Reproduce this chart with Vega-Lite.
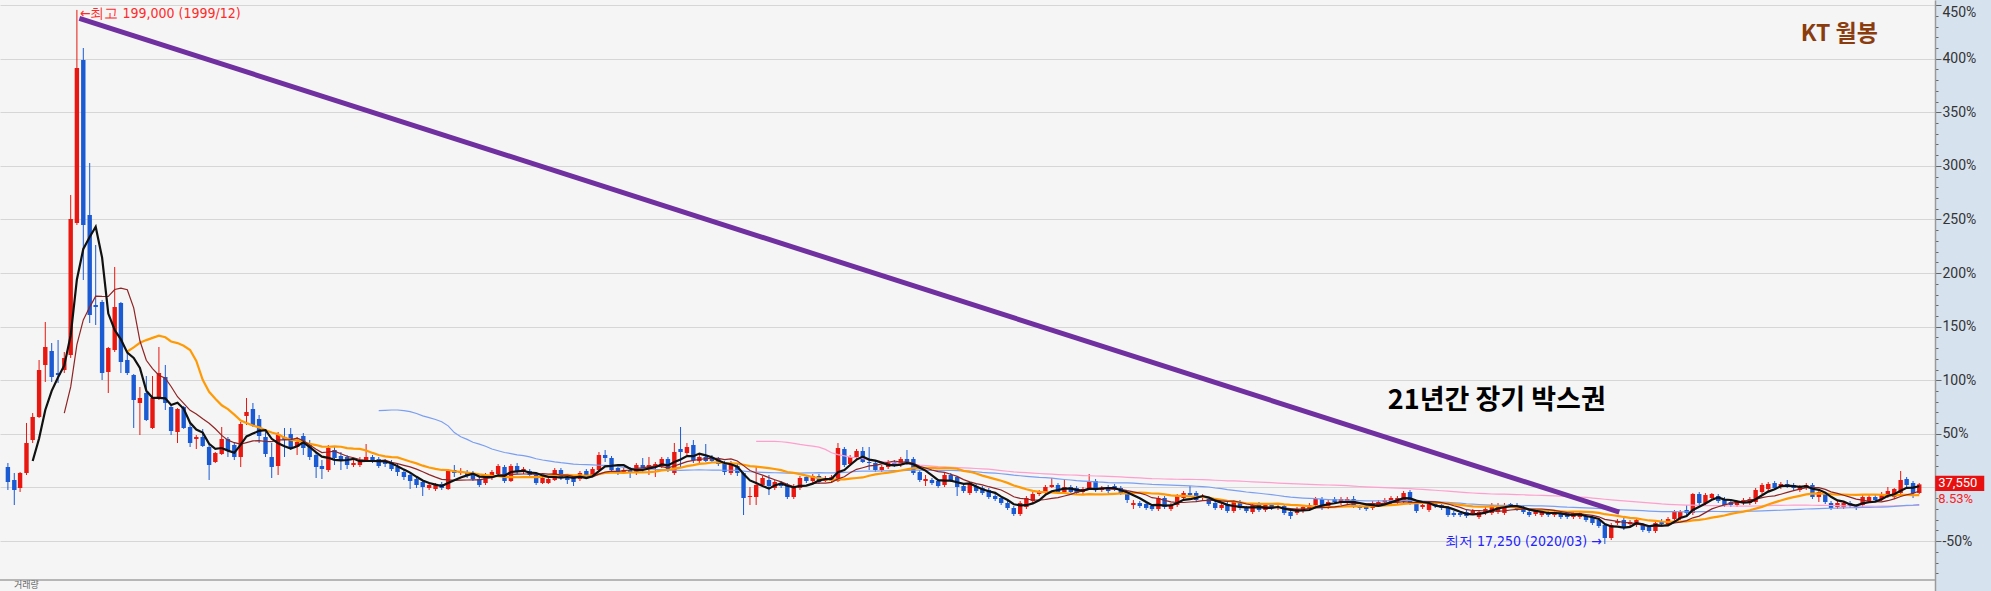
{
"$schema":"https://vega.github.io/schema/vega-lite/v6.json",
"width":1935,"height":591,
"autosize":{"type":"none"},
"padding":{"left":0,"top":0,"right":56,"bottom":0},
"background":"#d7e2ef",
"config":{"view":{"fill":"#f5f5f5","stroke":null}},
"datasets":{
"k":[
{"d":"1999-01-15","o":43450,"h":44810,"l":35630,"c":38350},
{"d":"1999-02-15","o":39030,"h":41410,"l":30520,"c":35630},
{"d":"1999-03-15","o":36310,"h":41750,"l":34950,"c":41410},
{"d":"1999-04-15","o":41410,"h":58430,"l":40730,"c":51620},
{"d":"1999-05-15","o":52640,"h":61830,"l":51620,"c":60470},
{"d":"1999-06-15","o":60470,"h":79870,"l":60130,"c":76460},
{"d":"1999-07-15","o":78170,"h":92800,"l":72380,"c":84290},
{"d":"1999-08-15","o":82930,"h":85650,"l":72380,"c":74080},
{"d":"1999-09-15","o":75440,"h":86670,"l":72040,"c":74760},
{"d":"1999-10-15","o":76460,"h":82590,"l":75440,"c":80550},
{"d":"1999-11-15","o":81570,"h":136020,"l":80550,"c":127850},
{"d":"1999-12-15","o":126490,"h":199000,"l":125810,"c":179230},
{"d":"2000-01-15","o":181960,"h":186040,"l":107090,"c":125810},
{"d":"2000-02-15","o":129210,"h":146910,"l":92460,"c":95180},
{"d":"2000-03-15","o":98580,"h":119000,"l":91780,"c":97900},
{"d":"2000-04-15","o":99610,"h":100300,"l":73060,"c":75440},
{"d":"2000-05-15","o":75780,"h":84300,"l":68640,"c":83950},
{"d":"2000-06-15","o":83270,"h":111520,"l":82590,"c":97900},
{"d":"2000-07-15","o":99270,"h":99610,"l":75440,"c":79190},
{"d":"2000-08-15","o":79870,"h":82250,"l":74760,"c":75440},
{"d":"2000-09-15","o":74760,"h":75100,"l":56730,"c":66260},
{"d":"2000-10-15","o":65240,"h":70680,"l":54340,"c":66940},
{"d":"2000-11-15","o":68640,"h":74420,"l":59100,"c":59450},
{"d":"2000-12-15","o":56730,"h":74420,"l":56400,"c":66940},
{"d":"2001-01-15","o":66940,"h":84290,"l":66260,"c":75440},
{"d":"2001-02-15","o":74080,"h":78170,"l":62850,"c":65240},
{"d":"2001-03-15","o":63870,"h":64200,"l":54340,"c":55700},
{"d":"2001-04-15","o":55360,"h":63500,"l":51620,"c":63190},
{"d":"2001-05-15","o":63870,"h":64210,"l":56400,"c":56730},
{"d":"2001-06-15","o":57070,"h":58430,"l":50260,"c":51620},
{"d":"2001-07-15","o":52980,"h":54340,"l":49580,"c":53660},
{"d":"2001-08-15","o":53660,"h":56380,"l":50260,"c":50600},
{"d":"2001-09-15","o":50260,"h":51620,"l":39030,"c":44130},
{"d":"2001-10-15","o":45150,"h":48560,"l":44810,"c":48220},
{"d":"2001-11-15","o":47880,"h":57070,"l":47540,"c":52980},
{"d":"2001-12-15","o":52980,"h":53660,"l":46860,"c":49240},
{"d":"2002-01-15","o":50940,"h":51960,"l":45830,"c":46860},
{"d":"2002-02-15","o":46860,"h":58770,"l":43450,"c":58090},
{"d":"2002-03-15","o":60810,"h":66940,"l":57750,"c":62170},
{"d":"2002-04-15","o":63190,"h":65240,"l":57070,"c":57750},
{"d":"2002-05-15","o":59790,"h":61150,"l":51620,"c":54000},
{"d":"2002-06-15","o":53660,"h":55360,"l":46860,"c":47880},
{"d":"2002-07-15","o":46860,"h":51620,"l":39710,"c":43450},
{"d":"2002-08-15","o":43790,"h":55360,"l":40730,"c":54680},
{"d":"2002-09-15","o":53660,"h":56730,"l":46860,"c":52640},
{"d":"2002-10-15","o":54680,"h":56730,"l":49240,"c":49920},
{"d":"2002-11-15","o":50260,"h":53660,"l":47540,"c":51960},
{"d":"2002-12-15","o":54000,"h":55020,"l":47540,"c":49920},
{"d":"2003-01-15","o":50940,"h":52640,"l":45830,"c":46860},
{"d":"2003-02-15","o":47540,"h":48560,"l":39710,"c":43450},
{"d":"2003-03-15","o":43790,"h":45830,"l":39370,"c":42770},
{"d":"2003-04-15","o":42430,"h":50940,"l":41750,"c":49920},
{"d":"2003-05-15","o":49240,"h":50260,"l":44130,"c":46510},
{"d":"2003-06-15","o":47200,"h":48560,"l":42430,"c":45830},
{"d":"2003-07-15","o":46860,"h":47540,"l":42770,"c":44130},
{"d":"2003-08-15","o":44130,"h":45830,"l":43450,"c":44810},
{"d":"2003-09-15","o":44130,"h":46860,"l":43450,"c":45830},
{"d":"2003-10-15","o":45490,"h":51280,"l":45150,"c":46860},
{"d":"2003-11-15","o":46860,"h":47540,"l":44810,"c":45830},
{"d":"2003-12-15","o":46170,"h":46860,"l":43110,"c":43790},
{"d":"2004-01-15","o":45150,"h":46170,"l":43450,"c":44470},
{"d":"2004-02-15","o":44810,"h":45830,"l":42090,"c":42770},
{"d":"2004-03-15","o":43450,"h":44470,"l":40390,"c":41750},
{"d":"2004-04-15","o":41750,"h":42770,"l":39030,"c":40050},
{"d":"2004-05-15","o":40730,"h":41750,"l":35970,"c":38690},
{"d":"2004-06-15","o":39370,"h":40050,"l":36310,"c":37330},
{"d":"2004-07-15","o":38350,"h":39030,"l":33580,"c":36650},
{"d":"2004-08-15","o":36310,"h":38350,"l":35630,"c":37330},
{"d":"2004-09-15","o":35970,"h":38010,"l":35290,"c":37330},
{"d":"2004-10-15","o":37670,"h":38350,"l":35630,"c":36310},
{"d":"2004-11-15","o":35970,"h":42770,"l":35630,"c":42430},
{"d":"2004-12-15","o":42430,"h":44130,"l":40050,"c":41410},
{"d":"2005-01-15","o":41410,"h":43110,"l":40730,"c":42090},
{"d":"2005-02-15","o":41750,"h":42430,"l":39710,"c":40730},
{"d":"2005-03-15","o":41410,"h":42090,"l":38690,"c":39370},
{"d":"2005-04-15","o":39370,"h":40390,"l":36650,"c":37330},
{"d":"2005-05-15","o":38010,"h":41410,"l":37330,"c":40730},
{"d":"2005-06-15","o":40050,"h":42430,"l":39030,"c":41750},
{"d":"2005-07-15","o":41070,"h":44470,"l":40390,"c":43790},
{"d":"2005-08-15","o":43450,"h":44130,"l":38010,"c":38690},
{"d":"2005-09-15","o":38690,"h":44470,"l":38350,"c":43790},
{"d":"2005-10-15","o":43790,"h":44810,"l":41070,"c":41750},
{"d":"2005-11-15","o":41750,"h":43450,"l":41070,"c":42770},
{"d":"2005-12-15","o":42090,"h":42770,"l":40050,"c":40730},
{"d":"2006-01-15","o":40730,"h":41410,"l":37330,"c":38010},
{"d":"2006-02-15","o":38010,"h":40390,"l":37670,"c":39710},
{"d":"2006-03-15","o":38010,"h":40050,"l":37670,"c":39370},
{"d":"2006-04-15","o":39030,"h":43110,"l":38690,"c":42430},
{"d":"2006-05-15","o":42430,"h":43110,"l":39030,"c":39710},
{"d":"2006-06-15","o":40050,"h":40730,"l":37670,"c":39030},
{"d":"2006-07-15","o":40050,"h":40730,"l":36990,"c":38350},
{"d":"2006-08-15","o":39370,"h":42090,"l":38690,"c":41410},
{"d":"2006-09-15","o":42090,"h":42770,"l":39370,"c":40050},
{"d":"2006-10-15","o":40730,"h":43450,"l":40050,"c":42770},
{"d":"2006-11-15","o":42430,"h":48560,"l":41750,"c":47540},
{"d":"2006-12-15","o":47540,"h":49240,"l":45150,"c":46510},
{"d":"2007-01-15","o":46510,"h":47200,"l":41750,"c":42430},
{"d":"2007-02-15","o":43110,"h":43790,"l":40730,"c":41410},
{"d":"2007-03-15","o":41750,"h":43110,"l":41070,"c":42430},
{"d":"2007-04-15","o":42430,"h":43450,"l":39710,"c":41410},
{"d":"2007-05-15","o":41410,"h":44810,"l":40730,"c":44130},
{"d":"2007-06-15","o":44130,"h":46510,"l":41750,"c":42770},
{"d":"2007-07-15","o":43110,"h":46860,"l":40730,"c":44130},
{"d":"2007-08-15","o":43450,"h":45150,"l":40050,"c":44470},
{"d":"2007-09-15","o":43790,"h":46860,"l":43110,"c":46170},
{"d":"2007-10-15","o":46170,"h":46860,"l":41750,"c":42430},
{"d":"2007-11-15","o":41410,"h":51620,"l":40730,"c":48560},
{"d":"2007-12-15","o":49580,"h":57070,"l":43110,"c":48560},
{"d":"2008-01-15","o":48220,"h":51620,"l":47540,"c":50260},
{"d":"2008-02-15","o":50940,"h":52640,"l":44810,"c":45830},
{"d":"2008-03-15","o":45490,"h":47540,"l":44810,"c":46860},
{"d":"2008-04-15","o":46860,"h":51280,"l":45150,"c":45490},
{"d":"2008-05-15","o":46860,"h":47540,"l":44810,"c":45490},
{"d":"2008-06-15","o":46170,"h":46860,"l":43790,"c":44470},
{"d":"2008-07-15","o":44810,"h":45490,"l":40730,"c":41750},
{"d":"2008-08-15","o":41410,"h":45490,"l":40730,"c":44810},
{"d":"2008-09-15","o":43790,"h":44810,"l":40390,"c":41410},
{"d":"2008-10-15","o":41410,"h":41750,"l":27120,"c":32900},
{"d":"2008-11-15","o":33240,"h":36650,"l":30520,"c":33580},
{"d":"2008-12-15","o":33240,"h":43450,"l":30520,"c":37330},
{"d":"2009-01-15","o":37330,"h":40390,"l":36650,"c":39710},
{"d":"2009-02-15","o":39030,"h":40730,"l":33920,"c":36990},
{"d":"2009-03-15","o":36310,"h":39030,"l":35630,"c":38350},
{"d":"2009-04-15","o":38010,"h":38690,"l":36310,"c":36990},
{"d":"2009-05-15","o":37330,"h":38010,"l":32560,"c":33240},
{"d":"2009-06-15","o":33240,"h":37670,"l":32560,"c":36990},
{"d":"2009-07-15","o":36310,"h":40390,"l":35630,"c":39710},
{"d":"2009-08-15","o":40050,"h":40730,"l":38010,"c":38690},
{"d":"2009-09-15","o":38690,"h":41070,"l":38010,"c":40390},
{"d":"2009-10-15","o":40390,"h":41070,"l":37670,"c":38350},
{"d":"2009-11-15","o":38690,"h":40390,"l":38350,"c":39710},
{"d":"2009-12-15","o":38690,"h":40730,"l":38350,"c":40050},
{"d":"2010-01-15","o":38690,"h":51620,"l":38350,"c":49920},
{"d":"2010-02-15","o":49580,"h":50260,"l":43450,"c":44130},
{"d":"2010-03-15","o":44470,"h":47540,"l":43790,"c":46860},
{"d":"2010-04-15","o":46860,"h":49580,"l":46170,"c":48900},
{"d":"2010-05-15","o":48900,"h":50260,"l":44810,"c":45150},
{"d":"2010-06-15","o":45150,"h":50260,"l":42430,"c":44810},
{"d":"2010-07-15","o":44810,"h":45490,"l":41750,"c":42430},
{"d":"2010-08-15","o":42430,"h":44130,"l":41750,"c":43450},
{"d":"2010-09-15","o":43450,"h":45830,"l":42770,"c":45150},
{"d":"2010-10-15","o":45150,"h":45830,"l":43450,"c":44130},
{"d":"2010-11-15","o":44130,"h":46860,"l":43450,"c":46170},
{"d":"2010-12-15","o":46170,"h":49240,"l":44130,"c":45150},
{"d":"2011-01-15","o":46170,"h":46860,"l":40730,"c":41410},
{"d":"2011-02-15","o":41750,"h":42430,"l":38350,"c":39030},
{"d":"2011-03-15","o":38690,"h":40730,"l":36990,"c":39370},
{"d":"2011-04-15","o":39030,"h":39710,"l":37330,"c":38010},
{"d":"2011-05-15","o":38690,"h":39370,"l":36310,"c":36990},
{"d":"2011-06-15","o":37330,"h":41410,"l":36650,"c":40730},
{"d":"2011-07-15","o":40730,"h":41410,"l":38350,"c":39030},
{"d":"2011-08-15","o":40050,"h":40390,"l":33580,"c":36650},
{"d":"2011-09-15","o":36990,"h":37670,"l":34600,"c":35290},
{"d":"2011-10-15","o":34600,"h":38350,"l":33920,"c":37670},
{"d":"2011-11-15","o":36990,"h":37670,"l":34600,"c":35290},
{"d":"2011-12-15","o":36310,"h":36990,"l":33920,"c":34600},
{"d":"2012-01-15","o":35630,"h":36310,"l":32560,"c":33240},
{"d":"2012-02-15","o":33580,"h":34260,"l":31880,"c":32560},
{"d":"2012-03-15","o":32900,"h":33580,"l":30520,"c":31200},
{"d":"2012-04-15","o":31200,"h":31880,"l":28820,"c":29500},
{"d":"2012-05-15","o":29500,"h":30180,"l":26780,"c":27460},
{"d":"2012-06-15","o":27460,"h":31880,"l":26780,"c":31200},
{"d":"2012-07-15","o":29840,"h":33580,"l":29160,"c":32900},
{"d":"2012-08-15","o":31880,"h":34950,"l":31200,"c":34260},
{"d":"2012-09-15","o":34260,"h":35630,"l":33580,"c":34950},
{"d":"2012-10-15","o":34600,"h":37330,"l":33920,"c":36650},
{"d":"2012-11-15","o":36650,"h":39710,"l":36310,"c":37330},
{"d":"2012-12-15","o":37330,"h":38010,"l":34260,"c":34950},
{"d":"2013-01-15","o":34950,"h":39030,"l":34260,"c":36650},
{"d":"2013-02-15","o":36650,"h":37330,"l":34260,"c":34950},
{"d":"2013-03-15","o":36310,"h":36990,"l":33920,"c":34600},
{"d":"2013-04-15","o":34950,"h":36650,"l":34260,"c":35970},
{"d":"2013-05-15","o":35970,"h":41070,"l":35630,"c":38350},
{"d":"2013-06-15","o":38690,"h":39370,"l":34950,"c":35630},
{"d":"2013-07-15","o":35630,"h":36990,"l":34950,"c":36310},
{"d":"2013-08-15","o":36650,"h":37330,"l":34600,"c":35290},
{"d":"2013-09-15","o":36990,"h":37670,"l":35290,"c":35970},
{"d":"2013-10-15","o":36310,"h":36990,"l":33920,"c":34600},
{"d":"2013-11-15","o":34950,"h":35100,"l":31200,"c":32220},
{"d":"2013-12-15","o":30520,"h":32220,"l":29160,"c":31200},
{"d":"2014-01-15","o":31200,"h":31880,"l":29500,"c":30180},
{"d":"2014-02-15","o":30860,"h":31540,"l":28820,"c":29500},
{"d":"2014-03-15","o":30180,"h":30860,"l":28480,"c":29160},
{"d":"2014-04-15","o":29160,"h":33580,"l":28480,"c":32900},
{"d":"2014-05-15","o":32900,"h":33580,"l":29160,"c":29840},
{"d":"2014-06-15","o":29160,"h":31200,"l":28480,"c":30520},
{"d":"2014-07-15","o":30520,"h":34260,"l":29840,"c":33580},
{"d":"2014-08-15","o":32900,"h":35290,"l":32220,"c":34600},
{"d":"2014-09-15","o":34600,"h":36990,"l":33580,"c":33920},
{"d":"2014-10-15","o":34600,"h":35290,"l":31540,"c":32220},
{"d":"2014-11-15","o":32900,"h":34260,"l":32220,"c":33580},
{"d":"2014-12-15","o":32560,"h":33240,"l":30180,"c":30860},
{"d":"2015-01-15","o":31200,"h":31880,"l":28820,"c":29500},
{"d":"2015-02-15","o":29500,"h":31200,"l":28820,"c":30520},
{"d":"2015-03-15","o":30860,"h":31540,"l":27800,"c":28480},
{"d":"2015-04-15","o":28480,"h":32220,"l":27800,"c":31540},
{"d":"2015-05-15","o":31540,"h":32220,"l":28820,"c":29500},
{"d":"2015-06-15","o":29500,"h":30180,"l":27800,"c":28480},
{"d":"2015-07-15","o":28140,"h":31200,"l":27460,"c":30520},
{"d":"2015-08-15","o":30860,"h":31540,"l":28140,"c":28820},
{"d":"2015-09-15","o":28820,"h":31200,"l":28140,"c":30520},
{"d":"2015-10-15","o":30520,"h":31200,"l":28820,"c":29500},
{"d":"2015-11-15","o":29500,"h":30520,"l":28820,"c":29840},
{"d":"2015-12-15","o":30180,"h":30860,"l":27120,"c":27800},
{"d":"2016-01-15","o":28140,"h":28820,"l":25750,"c":26780},
{"d":"2016-02-15","o":27800,"h":29840,"l":27120,"c":29160},
{"d":"2016-03-15","o":28480,"h":30520,"l":27800,"c":29840},
{"d":"2016-04-15","o":29160,"h":31200,"l":28480,"c":30520},
{"d":"2016-05-15","o":30520,"h":33240,"l":29840,"c":32560},
{"d":"2016-06-15","o":32560,"h":33240,"l":28820,"c":29500},
{"d":"2016-07-15","o":29840,"h":32220,"l":29160,"c":31540},
{"d":"2016-08-15","o":32560,"h":33240,"l":30860,"c":31540},
{"d":"2016-09-15","o":31200,"h":33240,"l":30520,"c":32560},
{"d":"2016-10-15","o":31540,"h":33240,"l":30860,"c":32560},
{"d":"2016-11-15","o":32560,"h":33580,"l":29500,"c":29840},
{"d":"2016-12-15","o":29840,"h":30520,"l":28820,"c":29500},
{"d":"2017-01-15","o":29840,"h":30520,"l":28480,"c":29160},
{"d":"2017-02-15","o":29500,"h":31880,"l":28820,"c":31200},
{"d":"2017-03-15","o":30520,"h":32220,"l":29840,"c":31540},
{"d":"2017-04-15","o":31540,"h":32900,"l":30860,"c":32220},
{"d":"2017-05-15","o":31540,"h":33580,"l":30860,"c":32900},
{"d":"2017-06-15","o":31540,"h":33580,"l":30860,"c":32900},
{"d":"2017-07-15","o":31880,"h":35290,"l":31200,"c":34600},
{"d":"2017-08-15","o":34950,"h":35630,"l":30520,"c":31200},
{"d":"2017-09-15","o":31200,"h":31880,"l":27800,"c":28480},
{"d":"2017-10-15","o":29840,"h":31200,"l":29160,"c":30520},
{"d":"2017-11-15","o":28820,"h":31880,"l":28140,"c":31200},
{"d":"2017-12-15","o":31200,"h":31880,"l":29500,"c":30180},
{"d":"2018-01-15","o":30520,"h":31200,"l":28820,"c":29500},
{"d":"2018-02-15","o":29500,"h":30180,"l":26440,"c":27120},
{"d":"2018-03-15","o":27800,"h":28480,"l":26440,"c":27120},
{"d":"2018-04-15","o":27800,"h":28480,"l":26440,"c":27120},
{"d":"2018-05-15","o":28140,"h":28820,"l":26100,"c":26780},
{"d":"2018-06-15","o":27800,"h":29160,"l":27120,"c":28480},
{"d":"2018-07-15","o":26440,"h":28820,"l":25750,"c":28140},
{"d":"2018-08-15","o":27800,"h":29840,"l":27120,"c":29160},
{"d":"2018-09-15","o":27800,"h":31200,"l":27120,"c":30520},
{"d":"2018-10-15","o":28140,"h":31200,"l":27460,"c":30520},
{"d":"2018-11-15","o":27800,"h":31200,"l":27120,"c":30520},
{"d":"2018-12-15","o":30860,"h":31200,"l":29500,"c":29840},
{"d":"2019-01-15","o":30520,"h":31200,"l":28480,"c":29160},
{"d":"2019-02-15","o":29500,"h":30180,"l":27460,"c":28140},
{"d":"2019-03-15","o":28140,"h":28820,"l":26440,"c":27120},
{"d":"2019-04-15","o":27460,"h":29160,"l":26780,"c":28480},
{"d":"2019-05-15","o":27120,"h":28820,"l":26440,"c":28140},
{"d":"2019-06-15","o":28140,"h":28820,"l":26440,"c":27120},
{"d":"2019-07-15","o":27120,"h":28820,"l":26440,"c":28140},
{"d":"2019-08-15","o":27800,"h":28480,"l":25750,"c":26440},
{"d":"2019-09-15","o":27800,"h":28480,"l":25750,"c":26440},
{"d":"2019-10-15","o":26440,"h":28480,"l":25750,"c":27800},
{"d":"2019-11-15","o":26440,"h":28480,"l":25750,"c":27800},
{"d":"2019-12-15","o":26780,"h":27460,"l":24730,"c":25410},
{"d":"2020-01-15","o":26440,"h":27120,"l":23710,"c":24390},
{"d":"2020-02-15","o":25410,"h":26100,"l":22690,"c":23370},
{"d":"2020-03-15","o":23710,"h":24050,"l":17250,"c":19290},
{"d":"2020-04-15","o":19290,"h":24390,"l":18610,"c":23710},
{"d":"2020-05-15","o":24390,"h":25750,"l":23710,"c":25070},
{"d":"2020-06-15","o":25410,"h":26100,"l":22010,"c":22690},
{"d":"2020-07-15","o":24050,"h":25410,"l":23370,"c":24730},
{"d":"2020-08-15","o":23710,"h":26100,"l":23030,"c":25410},
{"d":"2020-09-15","o":23710,"h":24390,"l":21330,"c":22010},
{"d":"2020-10-15","o":23030,"h":23710,"l":20990,"c":21670},
{"d":"2020-11-15","o":21670,"h":25070,"l":20990,"c":24390},
{"d":"2020-12-15","o":25070,"h":25750,"l":23370,"c":24050},
{"d":"2021-01-15","o":24050,"h":26440,"l":23370,"c":25750},
{"d":"2021-02-15","o":25750,"h":28820,"l":25070,"c":28140},
{"d":"2021-03-15","o":26100,"h":28820,"l":25410,"c":28140},
{"d":"2021-04-15","o":28820,"h":30520,"l":27120,"c":27800},
{"d":"2021-05-15","o":27800,"h":34600,"l":27120,"c":34260},
{"d":"2021-06-15","o":34260,"h":34950,"l":30520,"c":31200},
{"d":"2021-07-15","o":31200,"h":34600,"l":30520,"c":33920},
{"d":"2021-08-15","o":32900,"h":34600,"l":32560,"c":34260},
{"d":"2021-09-15","o":33580,"h":34260,"l":31200,"c":31880},
{"d":"2021-10-15","o":32560,"h":33240,"l":29840,"c":30520},
{"d":"2021-11-15","o":31540,"h":32220,"l":29840,"c":30520},
{"d":"2021-12-15","o":30520,"h":32220,"l":29840,"c":31540},
{"d":"2022-01-15","o":31200,"h":32900,"l":30520,"c":32220},
{"d":"2022-02-15","o":31200,"h":33240,"l":30520,"c":32560},
{"d":"2022-03-15","o":31540,"h":36310,"l":30860,"c":35630},
{"d":"2022-04-15","o":34950,"h":38010,"l":34260,"c":37330},
{"d":"2022-05-15","o":35970,"h":38350,"l":35290,"c":37670},
{"d":"2022-06-15","o":38010,"h":38690,"l":35630,"c":36310},
{"d":"2022-07-15","o":36650,"h":38350,"l":35970,"c":37670},
{"d":"2022-08-15","o":37670,"h":39030,"l":36310,"c":36650},
{"d":"2022-09-15","o":37330,"h":38010,"l":35630,"c":36310},
{"d":"2022-10-15","o":35630,"h":37330,"l":34950,"c":36650},
{"d":"2022-11-15","o":36310,"h":38010,"l":35630,"c":37330},
{"d":"2022-12-15","o":37330,"h":38010,"l":32560,"c":33240},
{"d":"2023-01-15","o":33240,"h":35290,"l":31540,"c":34950},
{"d":"2023-02-15","o":34260,"h":34950,"l":30860,"c":31540},
{"d":"2023-03-15","o":31200,"h":31880,"l":28820,"c":29500},
{"d":"2023-04-15","o":29840,"h":31880,"l":29160,"c":31200},
{"d":"2023-05-15","o":29840,"h":31880,"l":29160,"c":31200},
{"d":"2023-06-15","o":31200,"h":31880,"l":29500,"c":30180},
{"d":"2023-07-15","o":30180,"h":30860,"l":28820,"c":29500},
{"d":"2023-08-15","o":30520,"h":33920,"l":29840,"c":33240},
{"d":"2023-09-15","o":31880,"h":33920,"l":31200,"c":33240},
{"d":"2023-10-15","o":33240,"h":33920,"l":31540,"c":32220},
{"d":"2023-11-15","o":32560,"h":34950,"l":31880,"c":34260},
{"d":"2023-12-15","o":33580,"h":36650,"l":32900,"c":35290},
{"d":"2024-01-15","o":33240,"h":36310,"l":32560,"c":35970},
{"d":"2024-02-15","o":34600,"h":42090,"l":34260,"c":39030},
{"d":"2024-03-15","o":39370,"h":40050,"l":36650,"c":37330},
{"d":"2024-04-15","o":38010,"h":38690,"l":32900,"c":34600},
{"d":"2024-05-15","o":34600,"h":38010,"l":34260,"c":37550}
],
"trend":[{"d":"1999-12-27","p":196150},{"d":"2020-05-24","p":28140}],
"one":[{}]
},
"resolve":{"axis":{"y":"independent"}},
"layer":[
{"data":{"name":"k"},
 "mark":{"type":"rule","strokeWidth":1},
 "encoding":{
  "x":{"field":"d","type":"temporal",
   "scale":{"type":"utc","domain":[{"year":1999,"month":1,"date":1,"utc":true},{"year":2024,"month":7,"date":6,"utc":true}]},
   "axis":{"orient":"bottom","grid":true,"gridColor":"#d6d6d6","labels":false,"ticks":false,"domain":false,"title":null,"zindex":0,
    "values":[{"year":2000,"month":1,"date":1,"utc":true},{"year":2001,"month":1,"date":1,"utc":true},{"year":2002,"month":1,"date":1,"utc":true},{"year":2003,"month":1,"date":1,"utc":true},{"year":2004,"month":1,"date":1,"utc":true},{"year":2005,"month":1,"date":1,"utc":true},{"year":2006,"month":1,"date":1,"utc":true},{"year":2007,"month":1,"date":1,"utc":true},{"year":2008,"month":1,"date":1,"utc":true},{"year":2009,"month":1,"date":1,"utc":true},{"year":2010,"month":1,"date":1,"utc":true},{"year":2011,"month":1,"date":1,"utc":true},{"year":2012,"month":1,"date":1,"utc":true},{"year":2013,"month":1,"date":1,"utc":true},{"year":2014,"month":1,"date":1,"utc":true},{"year":2015,"month":1,"date":1,"utc":true},{"year":2016,"month":1,"date":1,"utc":true},{"year":2017,"month":1,"date":1,"utc":true},{"year":2018,"month":1,"date":1,"utc":true},{"year":2019,"month":1,"date":1,"utc":true},{"year":2020,"month":1,"date":1,"utc":true},{"year":2021,"month":1,"date":1,"utc":true},{"year":2022,"month":1,"date":1,"utc":true},{"year":2023,"month":1,"date":1,"utc":true},{"year":2024,"month":1,"date":1,"utc":true}]}},
  "y":{"field":"l","type":"quantitative","scale":{"domain":[1259,202375],"nice":false,"zero":false},
   "axis":{"orient":"right","title":null,"zindex":0,
    "values":[7296,10944,14592,18240,21888,25536,29184,32832,36480,40128,43776,47424,51072,54720,58368,62016,65664,69312,72960,76608,80256,83904,87552,91200,94848,98496,102144,105792,109440,113088,116736,120384,124032,127680,131328,134976,138624,142272,145920,149568,153216,156864,160512,164160,167808,171456,175104,178752,182400,186048,189696,193344,196992,200640],
    "labelExpr":"(round((datum.value/36480-1)*100) % 50 == 0 && round((datum.value/36480-1)*100) != 0) ? round((datum.value/36480-1)*100) + '%' : ''",
    "grid":true,
    "gridColor":{"condition":{"test":"round((datum.value/36480-1)*100) % 50 == 0","value":"#d6d6d6"},"value":"rgba(0,0,0,0)"},
    "tickSize":{"condition":{"test":"round((datum.value/36480-1)*100) % 50 == 0","value":6},"value":3},
    "tickColor":"#666","domainColor":"#9a9a9a","domainWidth":1.5,
    "labelColor":"#333","labelFont":"Liberation Sans Narrow, Roboto, sans-serif","labelFontSize":14,"labelPadding":1,
    "labelOverlap":false,"labelBound":false,"labelFlush":8}},
  "y2":{"field":"h"},
  "color":{"condition":{"test":"datum.c >= datum.o","value":"#e8170f"},"value":"#1a5ad2"}}},
{"data":{"name":"k"},
 "mark":{"type":"bar","size":4.4},
 "encoding":{
  "x":{"field":"d","type":"temporal","axis":null},
  "y":{"field":"o","type":"quantitative","axis":null},
  "y2":{"field":"c"},
  "color":{"condition":{"test":"datum.c >= datum.o","value":"#e8170f"},"value":"#1a5ad2"}}},
{"data":{"name":"k"},
 "transform":[{"window":[{"op":"mean","field":"c","as":"ma"},{"op":"count","as":"n"}],"frame":[-119,0],"sort":[{"field":"d"}]},{"filter":"datum.n >= 120"}],
 "mark":{"type":"line","color":"#ff9fcf","strokeWidth":1.2},
 "encoding":{"x":{"field":"d","type":"temporal","axis":null},"y":{"field":"ma","type":"quantitative","axis":null}}},
{"data":{"name":"k"},
 "transform":[{"window":[{"op":"mean","field":"c","as":"ma"},{"op":"count","as":"n"}],"frame":[-59,0],"sort":[{"field":"d"}]},{"filter":"datum.n >= 60"}],
 "mark":{"type":"line","color":"#7a9ff2","strokeWidth":1.2},
 "encoding":{"x":{"field":"d","type":"temporal","axis":null},"y":{"field":"ma","type":"quantitative","axis":null}}},
{"data":{"name":"k"},
 "transform":[{"window":[{"op":"mean","field":"c","as":"ma"},{"op":"count","as":"n"}],"frame":[-19,0],"sort":[{"field":"d"}]},{"filter":"datum.n >= 20"}],
 "mark":{"type":"line","color":"#ff9a05","strokeWidth":2.2},
 "encoding":{"x":{"field":"d","type":"temporal","axis":null},"y":{"field":"ma","type":"quantitative","axis":null}}},
{"data":{"name":"k"},
 "transform":[{"window":[{"op":"mean","field":"c","as":"ma"},{"op":"count","as":"n"}],"frame":[-9,0],"sort":[{"field":"d"}]},{"filter":"datum.n >= 10"}],
 "mark":{"type":"line","color":"#8e2424","strokeWidth":1.2},
 "encoding":{"x":{"field":"d","type":"temporal","axis":null},"y":{"field":"ma","type":"quantitative","axis":null}}},
{"data":{"name":"k"},
 "transform":[{"window":[{"op":"mean","field":"c","as":"ma"},{"op":"count","as":"n"}],"frame":[-4,0],"sort":[{"field":"d"}]},{"filter":"datum.n >= 5"}],
 "mark":{"type":"line","color":"#111111","strokeWidth":2.2},
 "encoding":{"x":{"field":"d","type":"temporal","axis":null},"y":{"field":"ma","type":"quantitative","axis":null}}},
{"data":{"name":"trend"},
 "mark":{"type":"line","color":"#7030a0","strokeWidth":5,"strokeCap":"butt"},
 "encoding":{"x":{"field":"d","type":"temporal","axis":null},"y":{"field":"p","type":"quantitative","axis":null}}},
{"data":{"name":"one"},
 "mark":{"type":"rule","color":"#a0a0a0","strokeWidth":1.5},
 "encoding":{"y":{"datum":5002,"type":"quantitative","axis":null}}},
{"data":{"name":"one"},
 "mark":{"type":"text","align":"left","baseline":"middle","dx":3,"dy":4,"color":"#ff2a2a","font":"DejaVu Sans Condensed, Liberation Sans Narrow, sans-serif","fontSize":14,"text":"←최고 199,000 (1999/12)"},
 "encoding":{"x":{"datum":{"year":1999,"month":12,"date":15,"utc":true},"type":"temporal","axis":null},"y":{"datum":199000,"type":"quantitative","axis":null}}},
{"data":{"name":"one"},
 "mark":{"type":"text","align":"right","baseline":"middle","dx":-3,"dy":-2.5,"color":"#2222ff","font":"DejaVu Sans Condensed, Liberation Sans Narrow, sans-serif","fontSize":14,"text":"최저 17,250 (2020/03) →"},
 "encoding":{"x":{"datum":{"year":2020,"month":3,"date":15,"utc":true},"type":"temporal","axis":null},"y":{"datum":17250,"type":"quantitative","axis":null}}},
{"data":{"name":"one"},
 "mark":{"type":"text","align":"center","baseline":"middle","color":"#8b3c0e","font":"Noto Sans CJK KR","fontWeight":"bold","fontSize":23,"text":"KT 월봉"},
 "encoding":{"x":{"datum":{"year":2023,"month":4,"date":24,"utc":true},"type":"temporal","axis":null},"y":{"datum":190810,"type":"quantitative","axis":null}}},
{"data":{"name":"one"},
 "mark":{"type":"text","align":"center","baseline":"middle","color":"#000000","font":"Noto Sans CJK KR","fontWeight":"bold","fontSize":27,"text":"21년간 장기 박스권"},
 "encoding":{"x":{"datum":{"year":2018,"month":10,"date":9,"utc":true},"type":"temporal","axis":null},"y":{"datum":65920,"type":"quantitative","axis":null}}},
{"data":{"name":"one"},
 "mark":{"type":"text","align":"left","baseline":"middle","dx":6,"dy":-0.5,"color":"#666666","font":"Noto Sans CJK KR","fontSize":9,"text":"거래량"},
 "encoding":{"x":{"datum":{"year":1999,"month":1,"date":15,"utc":true},"type":"temporal","axis":null},"y":{"datum":3000,"type":"quantitative","axis":null}}},
{"data":{"name":"one"},
 "mark":{"type":"point","shape":"M-1,-0.31L1,-0.31L1,0.31L-1,0.31Z","filled":true,"color":"#e81010","opacity":1,"size":2401,"xOffset":40.5,"yOffset":-1},
 "encoding":{"x":{"datum":{"year":2024,"month":5,"date":15,"utc":true},"type":"temporal","axis":null},"y":{"datum":37550,"type":"quantitative","axis":null}}},
{"data":{"name":"one"},
 "mark":{"type":"text","align":"left","baseline":"middle","dx":19,"dy":-1,"color":"#ffffff","font":"Liberation Sans Narrow, Roboto, sans-serif","fontSize":13,"text":"37,550"},
 "encoding":{"x":{"datum":{"year":2024,"month":5,"date":15,"utc":true},"type":"temporal","axis":null},"y":{"datum":37550,"type":"quantitative","axis":null}}},
{"data":{"name":"one"},
 "mark":{"type":"text","align":"left","baseline":"middle","dx":19,"dy":15,"color":"#ff2020","font":"Liberation Sans Narrow, Roboto, sans-serif","fontSize":13,"text":"8.53%"},
 "encoding":{"x":{"datum":{"year":2024,"month":5,"date":15,"utc":true},"type":"temporal","axis":null},"y":{"datum":37550,"type":"quantitative","axis":null}}}
]
}
